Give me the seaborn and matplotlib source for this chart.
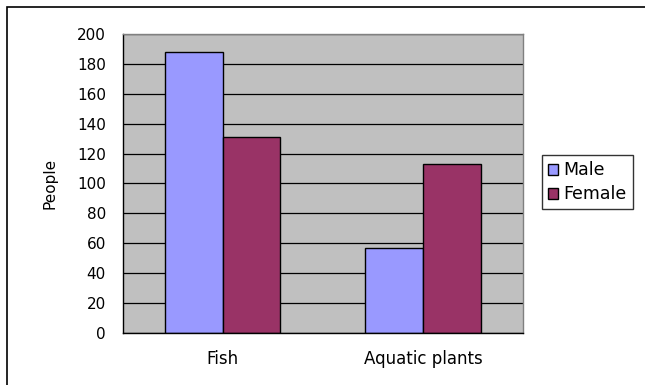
import pandas as pd
import matplotlib.pyplot as plt
import seaborn as sns
from matplotlib.patches import Rectangle

# Data
categories = ['Fish', 'Aquatic plants']
male = [188, 57]
female = [131, 113]
series_names = ['Male', 'Female']
y_ticks = [0, 20, 40, 60, 80, 100, 120, 140, 160, 180, 200]

df = pd.DataFrame({
    'Food': categories * 2,
    'Sex': [series_names[0]] * len(categories) + [series_names[1]] * len(categories),
    'People': male + female,
})

sns.set_style('white')
plt.rcParams['font.family'] = ['DejaVu Sans']
plt.rcParams['text.color'] = 'black'
plt.rcParams['axes.labelcolor'] = 'black'
plt.rcParams['xtick.color'] = 'black'
plt.rcParams['ytick.color'] = 'black'

fig = plt.figure(figsize=(6.45, 3.85), dpi=100)
ax = fig.add_axes([0.19, 0.135, 0.621, 0.777])
ax.set_facecolor('#C0C0C0')

sns.barplot(data=df, x='Food', y='People', hue='Sex', order=categories,
            hue_order=series_names, palette=['#9999FF', '#993366'],
            saturation=1, edgecolor='black', linewidth=1, width=0.575, ax=ax)

ax.set_ylim(0, 200)
ax.set_xlim(-0.5, len(categories) - 0.5)
ax.set_yticks(y_ticks)
ax.yaxis.grid(True, color='black', linewidth=0.9)
ax.set_axisbelow(True)

# Excel-style: ticks at category boundaries, labels at centres
ax.set_xticks([i - 0.5 for i in range(len(categories) + 1)])
ax.set_xticklabels([])
ax.set_xticks(range(len(categories)), minor=True)
ax.set_xticklabels(categories, minor=True, fontsize=12)
ax.tick_params(axis='x', which='major', direction='out', length=5, width=1, color='black')
ax.tick_params(axis='x', which='minor', length=0, pad=12)
ax.tick_params(axis='y', direction='out', length=5, width=1, color='black', labelsize=11, pad=7)

ax.set_xlabel('')
ax.set_ylabel('People', fontsize=11, labelpad=14)

for side in ['left', 'bottom']:
    ax.spines[side].set_color('black')
    ax.spines[side].set_linewidth(1)
for side in ['top', 'right']:
    ax.spines[side].set_color('#808080')
    ax.spines[side].set_linewidth(1)

handles, labels = ax.get_legend_handles_labels()
ax.get_legend().remove()
leg = fig.legend(handles, labels, loc='upper left', bbox_to_anchor=(0.840, 0.597),
                 frameon=True, fancybox=False, fontsize=12.5, handlelength=0.6,
                 handleheight=0.6, handletextpad=0.3, borderpad=0.35,
                 labelspacing=0.35, borderaxespad=0)
leg.get_frame().set_edgecolor('black')
leg.get_frame().set_linewidth(1)

# outer chart border
fig.patches.append(Rectangle((6.5 / 645, -0.01), 1.0, 1 - 6.5 / 385 + 0.01,
                             transform=fig.transFigure, fill=False,
                             edgecolor='black', linewidth=1.2))

plt.savefig('out.png', dpi=100)
